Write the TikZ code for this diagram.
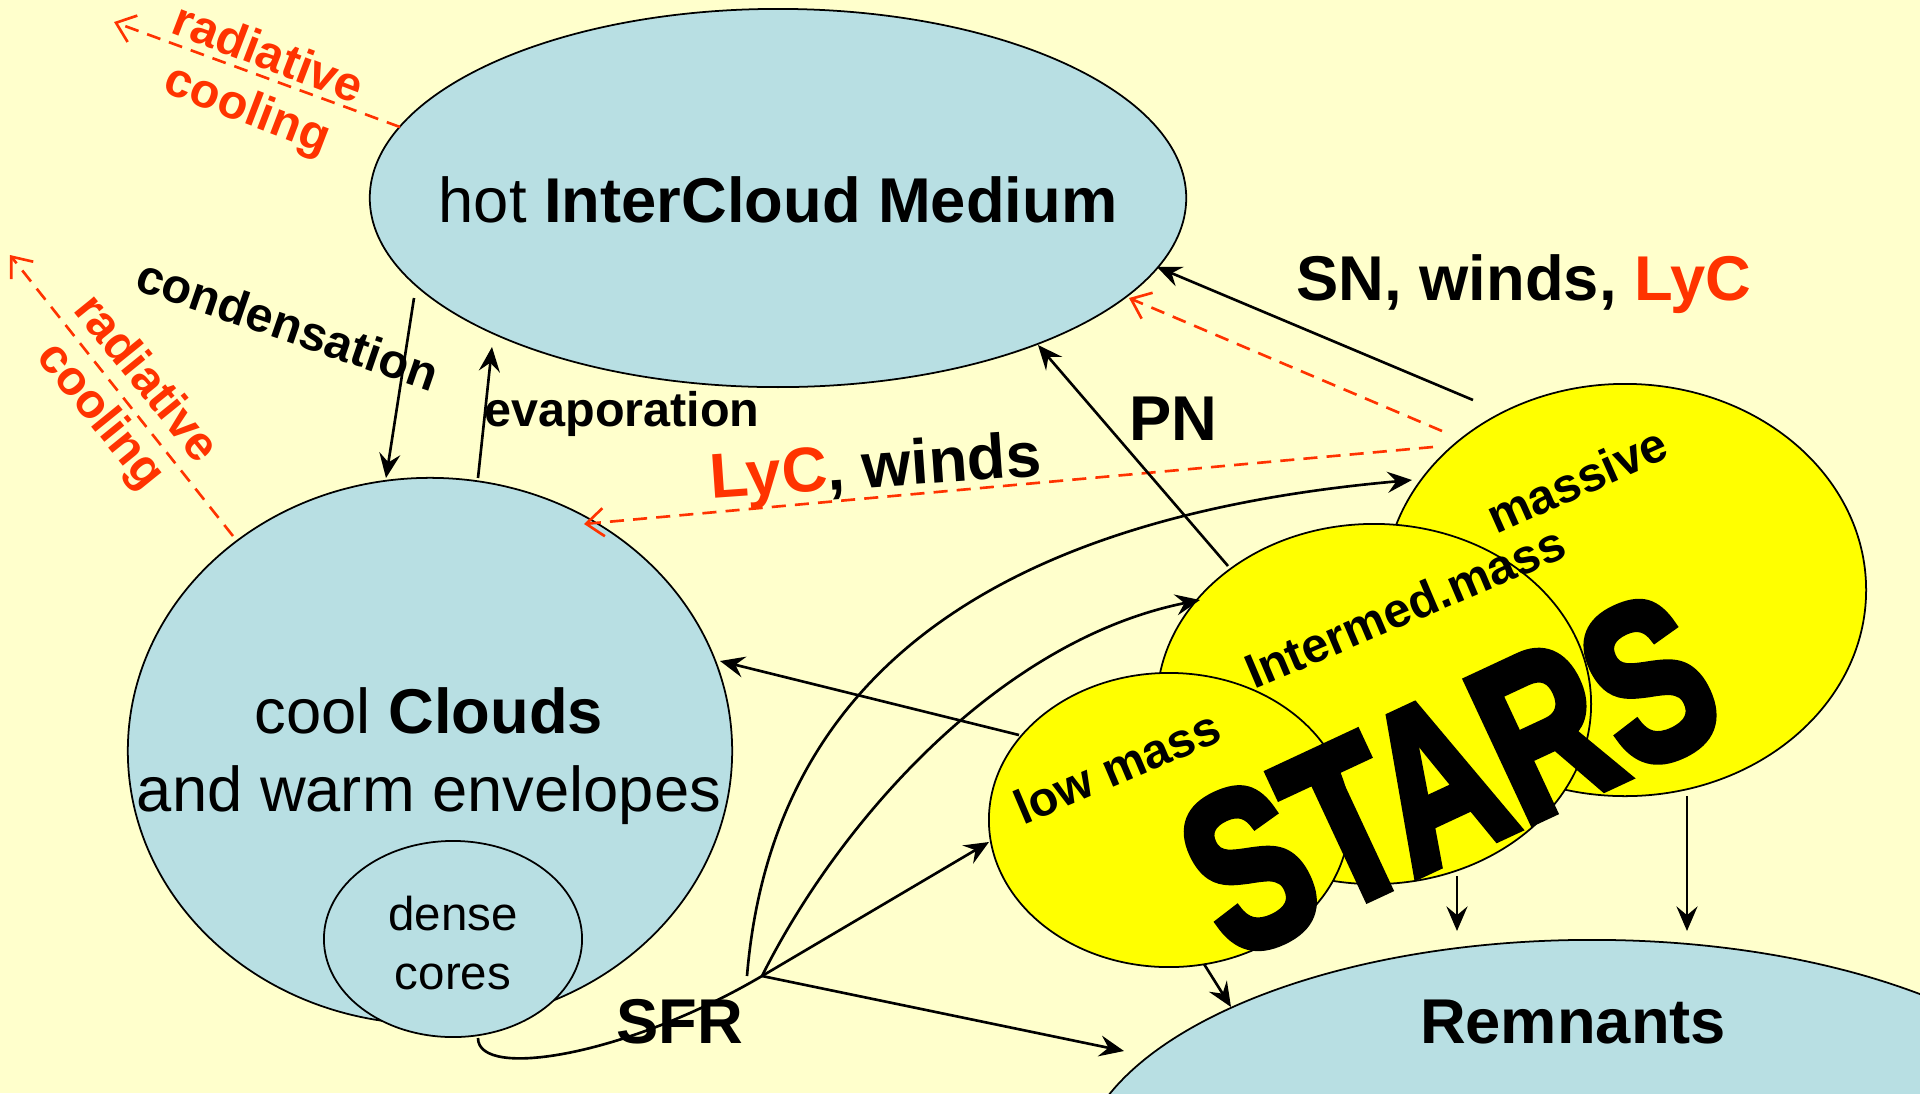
\documentclass[tikz,border=0pt]{standalone}
\usepackage{fontspec}
\setmainfont{Liberation Sans}
\newfontfamily\starsfont{Liberation Sans}[BoldFeatures={FakeBold=4}]
\usetikzlibrary{arrows.meta,shapes.geometric}
\definecolor{bg}{RGB}{255,255,204}
\definecolor{gasblue}{RGB}{184,223,227}
\definecolor{starsyellow}{RGB}{255,255,0}
\definecolor{lycred}{RGB}{255,51,0}
\tikzset{
  gas/.style={ellipse,draw,fill=gasblue,line width=0.5pt,inner sep=0pt},
  star/.style={ellipse,draw,fill=starsyellow,line width=0.5pt,inner sep=0pt},
  flow/.style={line width=0.75pt,-{Stealth[length=7pt,width=6pt,inset=2.5pt]}},
  rad/.style={lycred,line width=0.75pt,dash pattern=on 4pt off 2.6pt,-{Straight Barb[length=5pt,width=8pt]}},
  big/.style={font=\fontsize{18}{22}\selectfont,align=center},
  small/.style={font=\fontsize{13.5}{16.7}\selectfont,align=center},
  flowlabel/.style={font=\fontsize{13.8}{16.5}\selectfont\bfseries,align=center},
}
\begin{document}
\begin{tikzpicture}[x=0.01cm,y=-0.01cm]
\fill[bg] (0,0) rectangle (1920,1093);
\clip (0,0) rectangle (1920,1093);
% phases of the gas
\node[gas,minimum width=8.16cm,minimum height=3.78cm] (hot) at (778,198) {};
\node[gas,minimum width=6.04cm,minimum height=5.46cm] (clouds) at (430,751) {};
\node[gas,minimum width=2.58cm,minimum height=1.96cm] (cores) at (453,939) {};
\node[gas,minimum width=10.28cm,minimum height=4.72cm] (remnants) at (1592,1176) {};
% stars
\node[star,minimum width=4.82cm,minimum height=4.12cm] (massive) at (1625,590) {};
\node[star,minimum width=4.34cm,minimum height=3.60cm] (intermed) at (1374,704) {};
\node[star,minimum width=3.60cm,minimum height=2.94cm] (lowmass) at (1169,820) {};
% end points
\coordinate[] (condA) at (414,298);
\coordinate[] (condB) at (386,478);
\coordinate[] (evapA) at (478,478);
\coordinate[] (evapB) at (492,347);
\coordinate[] (radtopA) at (400,127);
\coordinate[] (radtopB) at (114,22);
\coordinate[] (radleftA) at (233,536);
\coordinate[] (radleftB) at (10,255);
\coordinate[] (snA) at (1473,400);
\coordinate[] (snB) at (1157,267);
\coordinate[] (lycA) at (1442,431);
\coordinate[] (lycB) at (1129,298);
\coordinate[] (windA) at (1433,447);
\coordinate[] (windB) at (584,524);
\coordinate[] (pnA) at (1228,566);
\coordinate[] (pnB) at (1038,345);
\coordinate[] (lowA) at (1019,735);
\coordinate[] (lowB) at (720,661);
\coordinate[] (coresA) at (478,1038);
\coordinate[] (sfr) at (762,976);
\coordinate[] (sfrM) at (747,976);
\coordinate[] (toLow) at (989,842);
\coordinate[] (toRem) at (1124,1051);
\coordinate[] (toInt) at (1200,600);
\coordinate[] (toMass) at (1412,480);
\coordinate[] (remLowA) at (1204,964);
\coordinate[] (remLowB) at (1231,1007);
\coordinate[] (remIntA) at (1457,876);
\coordinate[] (remIntB) at (1457,931);
\coordinate[] (remMassA) at (1687,796);
\coordinate[] (remMassB) at (1687,931);
% exchanges
\draw[flow] (condA) -- (condB);
\draw[flow] (evapA) -- (evapB);
\draw[rad] (radtopA) -- (radtopB);
\draw[rad] (radleftA) -- (radleftB);
\draw[flow] (snA) -- (snB);
\draw[rad] (lycA) -- (lycB);
\draw[rad] (windA) -- (windB);
\draw[flow] (pnA) -- (pnB);
\draw[flow] (lowA) -- (lowB);
\draw[line width=0.75pt] (coresA) .. controls (478,1080) and (626,1056) .. (sfr);
\draw[flow] (sfr) -- (toLow);
\draw[flow] (sfr) -- (toRem);
\draw[flow] (sfr) .. controls (840,820) and (1000,640) .. (toInt);
\draw[flow] (sfrM) .. controls (770,700) and (960,520) .. (toMass);
\draw[flow] (remLowA) -- (remLowB);
\draw[flow] (remIntA) -- (remIntB);
\draw[flow] (remMassA) -- (remMassB);
% labels
\node[big] (hottext) at (778,200) {hot \textbf{InterCloud Medium}};
\node[big] (cloudstext) at (429,756) {cool \textbf{Clouds}\\and warm envelopes};
\node[small] (corestext) at (453,943) {dense\\cores};
\node[big,font=\fontsize{18}{22}\selectfont\bfseries] (remtext) at (1573,1022) {Remnants};
\node[big,font=\fontsize{18}{22}\selectfont\bfseries] (sfrtext) at (680,1022) {SFR};
\node[big,font=\fontsize{18}{22}\selectfont\bfseries] (pntext) at (1173,419) {PN};
\node[big,font=\fontsize{18}{22}\selectfont\bfseries] (sntext) at (1524,284) {SN, winds, \textcolor{lycred}{LyC}};
\node[big,font=\fontsize{18}{22}\selectfont\bfseries,rotate=4] (windtext) at (876,471) {\textcolor{lycred}{LyC}, winds};
\node[flowlabel,rotate=-19] (condtext) at (288,324) {condensation};
\node[flowlabel,text=lycred,rotate=-21] (radtoptext) at (257,84) {radiative\\cooling};
\node[flowlabel] (evaptext) at (622,414) {evaporation};
\node[flowlabel,text=lycred,rotate=-51] (radlefttext) at (122,398) {radiative\\cooling};
\node[flowlabel,rotate=24] (masstext) at (1577,480) {massive};
\node[flowlabel,rotate=23] (inttext) at (1405,607) {Intermed.mass};
\node[flowlabel,rotate=23] (lowtext) at (1117,767) {low mass};
\node[rotate=25,font=\starsfont\bfseries\fontsize{64}{66}\selectfont] (starstext) at (1449,775) {\scalebox{0.74}[1]{STARS}};
\end{tikzpicture}
\end{document}
